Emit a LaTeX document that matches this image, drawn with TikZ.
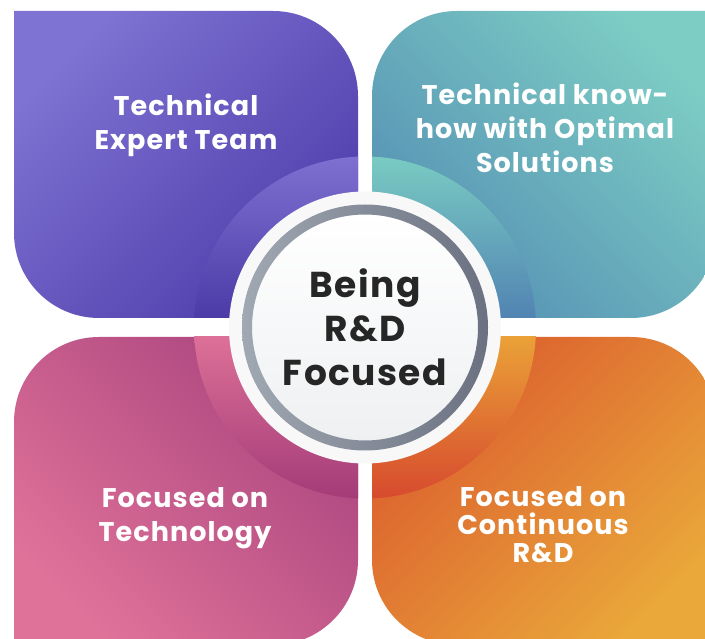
\documentclass[tikz,border=0pt]{standalone}
\usepackage{fontspec}
\setmainfont{Poppins}
\newfontfamily\widefont{Poppins}[LetterSpace=4]
% quadrant colours
\definecolor{tlLight}{HTML}{7E72D2}
\definecolor{tlDark}{HTML}{4E3DAB}
\definecolor{trLight}{HTML}{7DCDC4}
\definecolor{trDark}{HTML}{5590B4}
\definecolor{blLight}{HTML}{DF7299}
\definecolor{blDark}{HTML}{AB457F}
\definecolor{brRed}{HTML}{DB5C2E}
\definecolor{brYellow}{HTML}{EAA83A}
% ring segment colours
\definecolor{rtlTop}{HTML}{7D70D0}
\definecolor{rtlBot}{HTML}{4838A5}
\definecolor{rtrTop}{HTML}{79CBC2}
\definecolor{rtrBot}{HTML}{4F7FB2}
\definecolor{rblTop}{HTML}{DF7399}
\definecolor{rblBot}{HTML}{A43B78}
\definecolor{rbrTop}{HTML}{EBA638}
\definecolor{rbrBot}{HTML}{D74A2E}
% hub colours
\definecolor{hubRim}{HTML}{F8F8F9}
\definecolor{hubLow}{HTML}{EEF0F2}
\definecolor{ringLight}{HTML}{A0A8B2}
\definecolor{ringDark}{HTML}{6B7181}
\definecolor{hubText}{HTML}{262626}
\begin{document}
\begin{tikzpicture}[x=1pt,y=1pt,
  quadlabel/.style={text=white,font=\widefont\bfseries\fontsize{27}{34}\selectfont,align=center,inner sep=0pt},
  hublabel/.style={text=hubText,font=\widefont\bfseries\fontsize{36}{44}\selectfont,align=center,inner sep=0pt}]
\useasboundingbox (0,0) rectangle (705,638);
\fill[white] (0,0) rectangle (705,638);
\coordinate (c) at (365,310.5);

% four rounded quadrants
\shade[top color=tlLight,bottom color=tlDark,shading angle=45]
  (14,627) -- (273,627) arc[start angle=90,end angle=0,radius=85] -- (358,320)
  -- (99,320) arc[start angle=270,end angle=180,radius=85] -- cycle;
\shade[top color=trLight,bottom color=trDark,shading angle=-45]
  (372,320) -- (372,542) arc[start angle=180,end angle=90,radius=85] -- (716,627)
  -- (716,405) arc[start angle=0,end angle=-90,radius=85] -- cycle;
\shade[top color=blDark,bottom color=blLight,shading angle=-45]
  (14,-7) -- (14,216) arc[start angle=180,end angle=90,radius=85] -- (358,301)
  -- (358,78) arc[start angle=0,end angle=-90,radius=85] -- cycle;
\shade[top color=brRed,bottom color=brYellow,shading angle=45]
  (372,301) -- (631,301) arc[start angle=90,end angle=0,radius=85] -- (716,-7)
  -- (457,-7) arc[start angle=270,end angle=180,radius=85] -- cycle;

% coloured ring segments around the hub
\begin{scope}
  \clip (14,320) rectangle (358,627);
  \shade[top color=rtlTop,bottom color=rtlBot] (c) -- ++(90:171) arc[start angle=90,end angle=180,radius=171] -- cycle;
\end{scope}
\begin{scope}
  \clip (372,320) rectangle (716,627);
  \shade[top color=rtrTop,bottom color=rtrBot] (c) -- ++(0:171) arc[start angle=0,end angle=90,radius=171] -- cycle;
\end{scope}
\begin{scope}
  \clip (14,-7) rectangle (358,301);
  \shade[top color=rblTop,bottom color=rblBot] (c) -- ++(180:171) arc[start angle=180,end angle=270,radius=171] -- cycle;
\end{scope}
\begin{scope}
  \clip (372,-7) rectangle (716,301);
  \shade[top color=rbrTop,bottom color=rbrBot] (c) -- ++(270:171) arc[start angle=270,end angle=360,radius=171] -- cycle;
\end{scope}

% hub
\fill[hubRim] (c) circle (136);
\shade[top color=white,bottom color=hubLow] (c) circle (113);
\shade[left color=ringLight,right color=ringDark,even odd rule] (c) circle (123) (c) circle (113);

% labels
\node[quadlabel] (tl) at (186,513) {Technical\\Expert Team};
\node[quadlabel] (tr) at (545,510) {Technical know-\\how with Optimal\\Solutions};
\node[quadlabel] (bl) at (185,120) {Focused on\\Technology};
\node[quadlabel,font=\widefont\bfseries\fontsize{27}{28}\selectfont] (br) at (543,113) {Focused on\\Continuous\\R\&D};
\node[hublabel] (hub) at (c) {Being\\R\&D\\Focused};
\end{tikzpicture}
\end{document}
